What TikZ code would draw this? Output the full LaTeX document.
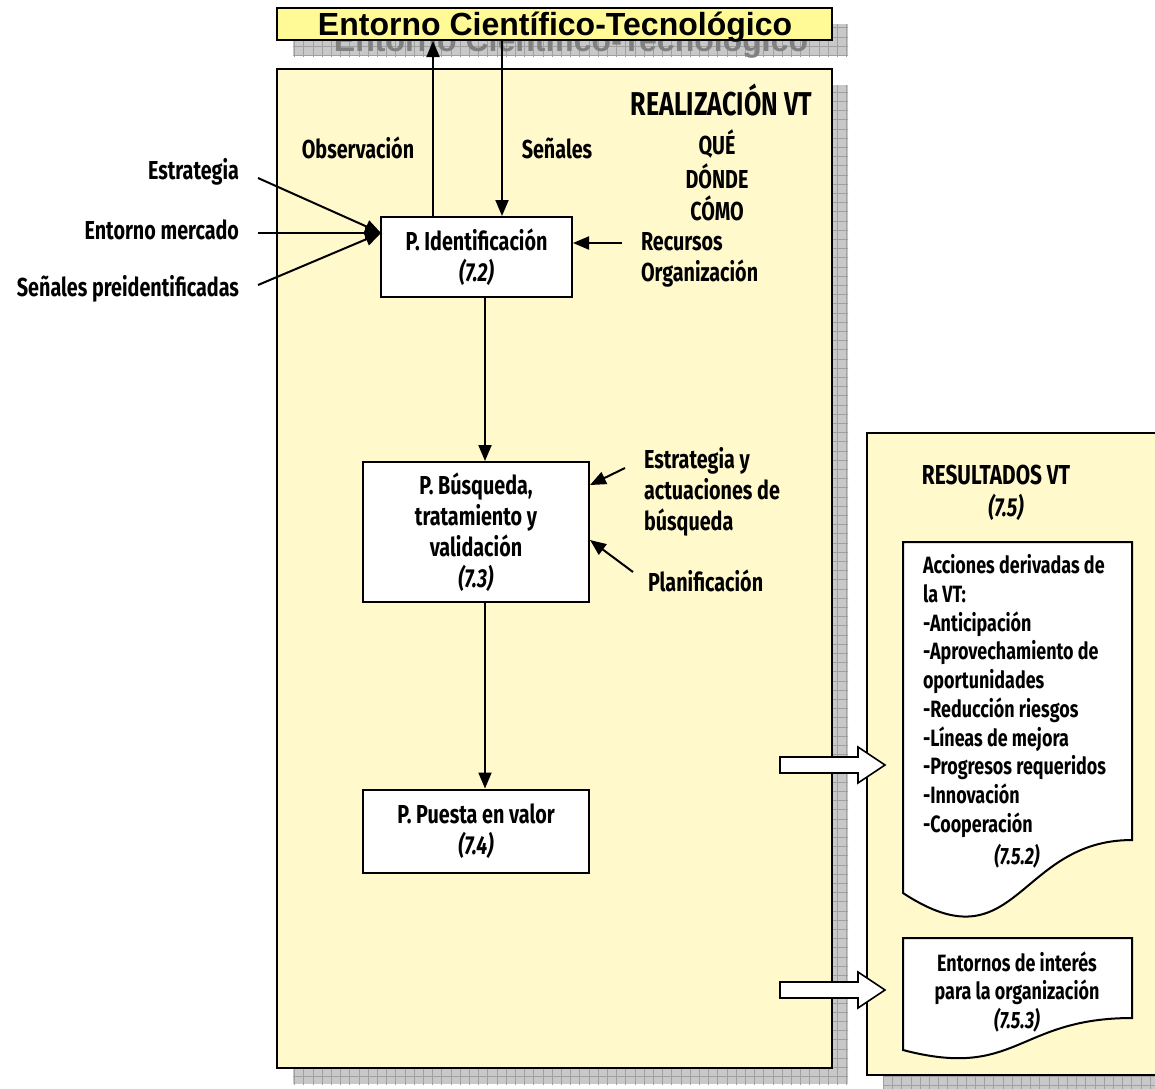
\documentclass[tikz,border=0pt]{standalone}
\usepackage{fontspec}
\setmainfont[FakeStretch=0.76]{Fira Sans}
\newfontfamily\arialfont{Liberation Sans}
\usetikzlibrary{arrows.meta}
\definecolor{mainyel}{RGB}{255,249,204}
\definecolor{topyel}{RGB}{255,250,150}
\definecolor{shadfill}{RGB}{200,200,200}
\definecolor{shadgrid}{RGB}{160,160,160}
\definecolor{shadtext}{RGB}{128,128,128}
\newcommand\lblfont{\bfseries\fontsize{13}{15.5}\selectfont}
\newcommand\docfont{\bfseries\fontsize{11.8}{14.35}\selectfont}
\newcommand\titlefont{\arialfont\bfseries\fontsize{16}{18}\selectfont}
\newcommand\gridshade[2]{%
  \begin{scope}
    \clip #1 rectangle #2;
    \fill[shadfill] #1 rectangle #2;
    \draw[shadgrid, line width=0.3pt, step=4.6pt] (0,0) grid (1200,1100);
  \end{scope}}
\begin{document}
\begin{tikzpicture}[x=0.5pt,y=-0.5pt, line width=1pt,
  lbl/.style={font=\lblfont, inner sep=0pt},
  box/.style={draw, fill=white, line width=1pt, align=center, font=\lblfont, inner sep=0pt},
  arr/.style={-{Triangle[length=8pt,width=6.5pt]}, line width=1pt},
  blockarr/.style={draw, fill=white, line width=0.8pt, line join=miter},
  ]
\clip (0,0) rectangle (1155,1088);
% shadows
\gridshade{(293,24)}{(848,56)}
\node[font=\titlefont, text=shadtext, inner sep=0pt] (envshadow) at (571,43) {Entorno Científico-Tecnológico};
\gridshade{(293,85)}{(848,1084)}
\gridshade{(883,449)}{(1200,1100)}
% boxes
\node[draw, fill=topyel, minimum width=277.5pt, minimum height=16pt, inner sep=0pt] (env) at (554.5,24) {};
\node[font=\titlefont, inner sep=0pt] (envt) at (555,27) {Entorno Científico-Tecnológico};
\node[draw, fill=mainyel, minimum width=277.5pt, minimum height=499.5pt, inner sep=0pt] (real) at (554.5,568.5) {};
\node[draw, fill=mainyel, minimum width=160pt, minimum height=321pt, inner sep=0pt] (res) at (1027,754) {};

% headings
\node[lbl, font=\bfseries\fontsize{16.5}{18}\selectfont, anchor=east] (realt) at (813,100) {REALIZACIÓN VT};
\node[lbl] (que) at (717,144) {QUÉ};
\node[lbl] (donde) at (717,176) {DÓNDE};
\node[lbl] (como) at (717,208) {CÓMO};

% process boxes
\node[box, minimum width=95.5pt, minimum height=40pt] (pid) at (476.5,257) {P. Identificación\\\textit{(7.2)}};
\node[box, minimum width=113pt, minimum height=70pt] (pbus) at (476,532) {P. Búsqueda,\\tratamiento y\\validación\\\textit{(7.3)}};
\node[box, minimum width=113pt, minimum height=41.5pt] (ppv) at (476,831) {P. Puesta en valor\\\textit{(7.4)}};

% top arrows
\coordinate (obsx) at (433,0);
\coordinate (senx) at (502,0);
\coordinate (downx) at (485,0);
\draw[arr] (pid.north -| obsx) -- (env.south -| obsx);
\draw[arr] (env.south -| senx) -- (pid.north -| senx);
\node[lbl] (obs) at (358,148) {Observación};
\node[lbl] (sen) at (557,148) {Señales};

% vertical flow
\draw[arr] (pid.south -| downx) -- (pbus.north -| downx);
\draw[arr] (pbus.south -| downx) -- (ppv.north -| downx);

% left inputs
\node[lbl, anchor=east] (lest) at (240,172) {Estrategia};
\node[lbl, anchor=east] (lmer) at (240,230) {Entorno mercado};
\node[lbl, anchor=east] (lsen) at (240,289) {Señales preidentificadas};
\coordinate (e1) at (258,178);
\coordinate (e2) at (258,233);
\coordinate (e3) at (258,285);
\coordinate (pin) at (381,233);
\draw[arr] (e1) -- (pin);
\draw[arr] (e2) -- (pin);
\draw[arr] (e3) -- (pin);

% right inputs
\coordinate (rec) at (622,243);
\draw[arr] (rec) -- (pid.east |- rec);
\node[lbl, anchor=west] (lrec) at (640,242) {Recursos};
\node[lbl, anchor=west] (lorg) at (640,274) {Organización};

\node[lbl, anchor=west, align=left] (lact) at (643,492) {Estrategia y\\actuaciones de\\búsqueda};
\node[lbl, anchor=west] (lplan) at (647,581) {Planificación};
\coordinate (a1s) at (625,468);
\coordinate (a1e) at (590,485);
\coordinate (a2s) at (633,572);
\coordinate (a2e) at (590,540);
\draw[arr] (a1s) -- (a1e);
\draw[arr] (a2s) -- (a2e);

% results
\node[lbl, font=\bfseries\fontsize{13.7}{16}\selectfont] (rest) at (996,475) {RESULTADOS VT};
\node[lbl] (res75) at (1006,507) {\textit{(7.5)}};

\draw[fill=white, line width=1pt] (903,542) -- (1132,542) -- (1132,840)
  .. controls (1017,840) and (1017,968) .. (903,893) -- cycle;
\node[font=\docfont, inner sep=0pt, anchor=west, align=left] (doc1) at (922,696)
 {Acciones derivadas de\\la VT:\\-Anticipación\\-Aprovechamiento de\\oportunidades\\-Reducción riesgos\\-Líneas de mejora\\-Progresos requeridos\\-Innovación\\-Cooperación};
\node[font=\docfont, inner sep=0pt] (doc1n) at (1017,856) {\textit{(7.5.2)}};

\draw[fill=white, line width=1pt] (903,938) -- (1132,938) -- (1132,1018)
  .. controls (1017,1018) and (1017,1080) .. (903,1050) -- cycle;
\node[font=\docfont, inner sep=0pt, align=center] (doc2) at (1017,992)
 {Entornos de interés\\para la organización\\\textit{(7.5.3)}};

% block arrows
\draw[blockarr] (780,757) -- (858,757) -- (858,747) -- (885,765) -- (858,783) -- (858,773) -- (780,773) -- cycle;
\draw[blockarr] (780,982) -- (858,982) -- (858,972) -- (885,990) -- (858,1008) -- (858,998) -- (780,998) -- cycle;
\end{tikzpicture}
\end{document}
